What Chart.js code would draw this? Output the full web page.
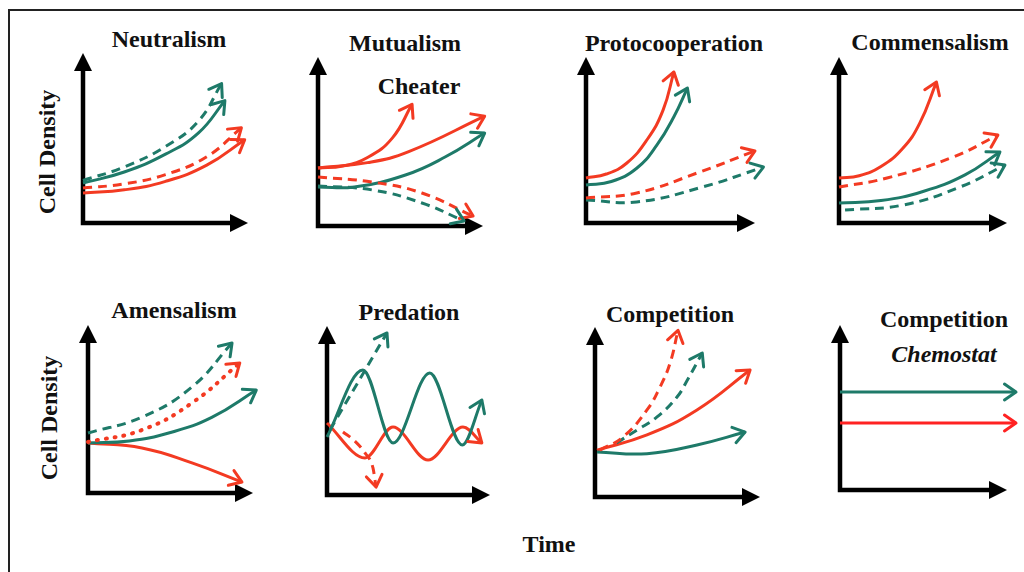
<!DOCTYPE html>
<html>
<head>
<meta charset="utf-8">
<script src="https://cdn.jsdelivr.net/npm/chart.js@4/dist/chart.umd.min.js"></script>
<style>
  html, body { margin: 0; padding: 0; background: #fff; }
  body { width: 1024px; height: 572px; position: relative; overflow: hidden; }
  .frame { position: absolute; left: 8px; top: 9px; width: 1100px; height: 700px;
           border-top: 2px solid #222; border-left: 2px solid #222; }
  .lbl { position: absolute; transform: translate(-50%, -50%); white-space: nowrap;
         font: bold 24px "Liberation Serif", "DejaVu Serif", serif; color: #111; }
  .lbl.it { font-style: italic; }
  .lbl.rot { transform: translate(-50%, -50%) rotate(-90deg); }
  .panel { position: absolute; }
</style>
</head>
<body>
<div class="frame"></div>

<div class="lbl" style="left:169px;top:39px">Neutralism</div>
<div class="lbl" style="left:405px;top:43px">Mutualism</div>
<div class="lbl" style="left:419px;top:86px">Cheater</div>
<div class="lbl" style="left:674px;top:43px">Protocooperation</div>
<div class="lbl" style="left:930px;top:42px">Commensalism</div>
<div class="lbl" style="left:174px;top:310px">Amensalism</div>
<div class="lbl" style="left:409px;top:312px">Predation</div>
<div class="lbl" style="left:670px;top:314px">Competition</div>
<div class="lbl" style="left:944px;top:319px">Competition</div>
<div class="lbl it" style="left:944px;top:354px">Chemostat</div>
<div class="lbl rot" style="left:47px;top:152px">Cell Density</div>
<div class="lbl rot" style="left:49px;top:418px">Cell Density</div>
<div class="lbl" style="left:549px;top:544px">Time</div>

<script>
// =========================
// DATA  ([time, density] in % of each axis)
// =========================
const neutralGreenDash  = [[0, 25], [25, 33], [50, 45], [70, 60], [84, 82]];
const neutralGreenSolid = [[0, 23.5], [25, 30], [50, 40.5], [70, 53], [86, 72]];
const neutralRedDash    = [[0, 20.6], [25, 23], [50, 28.5], [75, 39], [96, 56]];
const neutralRedSolid   = [[0, 17.6], [25, 19.5], [50, 24.5], [75, 34], [98, 49]];

const mutualRedSolid    = [[0, 34.3], [30, 37.5], [55, 44], [101, 65]];
const mutualCheater     = [[0, 34.3], [15, 35.5], [30, 40.5], [45, 52], [57, 72]];
const mutualGreenSolid  = [[0, 23.1], [22, 23.1], [53, 30.2], [77, 40.8], [101, 55]];
const mutualRedDash     = [[0, 29], [33, 26], [63, 19.5], [94, 5.9]];
const mutualGreenDash   = [[0, 23.7], [33, 21.3], [63, 13.6], [88.5, 3]];

const protoRedSolid     = [[0, 27.1], [12, 29.5], [24, 36], [36, 50], [45.6, 68], [52, 91]];
const protoGreenSolid   = [[0, 22.9], [15, 25], [30, 33], [42, 47], [52, 64], [60, 81.3]];
const protoRedDash      = [[0, 15.1], [30, 18.1], [65.7, 30.1], [100, 43.4]];
const protoGreenDash    = [[0, 13.9], [30, 12.7], [69, 21.7], [105, 33.7]];

const commRedSolid      = [[0, 27.1], [12, 28.5], [25, 34], [38, 45], [48, 60], [58, 84.9]];
const commRedDash       = [[0, 21.7], [28.6, 27.1], [68, 39.8], [94.6, 53]];
const commGreenSolid    = [[0, 12], [25, 13.5], [50, 19], [75, 29], [95.8, 42.8]];
const commGreenDash     = [[3.6, 7.8], [38, 10.8], [72, 21.7], [98.8, 34.9]];

const amenGreenDash     = [[0, 35.7], [32.7, 45.2], [63, 63.1], [87.3, 89.3]];
const amenRedDot        = [[0, 30.4], [32.7, 37.5], [63, 53.6], [92, 77.4]];
const amenGreenSolid    = [[0, 29.8], [25, 31], [50, 36], [75, 45], [102, 61.3]];
const amenRedSolid      = [[0, 29.8], [32.7, 26.8], [63, 17.9], [93.3, 6.5]];

const predGreenSolid    = [[0, 34.3], [22, 74], [40.5, 30.8], [63, 72.2], [83, 29.6], [95, 56.2]];
const predRedSolid      = [[0, 42.6], [23.3, 21.9], [40.5, 40.2], [62, 20.7], [83.4, 40.2], [95, 30.8]];
const predGreenDash     = [[1.8, 38.5], [36.8, 95.9]];
const predRedDash       = [[9.8, 37.3], [17, 32], [23.3, 24.9], [28.2, 16], [30.1, 4.7]];

const compRedDash       = [[3, 27.6], [17, 35.3], [31.5, 51.2], [39.4, 64.7], [45.5, 78.8], [50.3, 98]];
const compGreenDash     = [[13, 31.8], [25.5, 39.4], [37.6, 47.1], [49.7, 58.8], [56, 68.8], [65, 84.7]];
const compRedSolid      = [[1.2, 27.6], [31.5, 36.5], [61.8, 51.2], [94, 74.7]];
const compGreenSolid    = [[1.2, 26.5], [31.5, 25.5], [61.8, 30.6], [91, 38.2]];

const chemoGreen        = [[0, 59.4], [105.4, 59.4]];
const chemoRed          = [[0, 40.6], [105.4, 40.6]];

// =========================
// STYLES
// =========================
const RED = "#f33a22";
const GREEN = "#1e7a69";
const PURE_RED = "#ff2222";
const DASH = [9, 6];
const DOT = [1, 8];

// =========================
// PANELS  (axis origin x/y, x-axis tip, y-axis tip, in page pixels)
// =========================
const panels = [
  { box: [83, 223, 248, 53], series: [
    [neutralGreenDash, GREEN, DASH], [neutralGreenSolid, GREEN], [neutralRedDash, RED, DASH], [neutralRedSolid, RED]] },
  { box: [318, 226, 483, 57], series: [
    [mutualRedDash, RED, DASH], [mutualGreenDash, GREEN, DASH], [mutualRedSolid, RED], [mutualCheater, RED], [mutualGreenSolid, GREEN]] },
  { box: [586, 223, 755, 57], series: [
    [protoRedDash, RED, DASH], [protoGreenDash, GREEN, DASH], [protoRedSolid, RED], [protoGreenSolid, GREEN]] },
  { box: [839, 223, 1007, 57], series: [
    [commRedDash, RED, DASH], [commGreenDash, GREEN, DASH], [commRedSolid, RED], [commGreenSolid, GREEN]] },
  { box: [88, 493, 253, 325], series: [
    [amenGreenDash, GREEN, DASH], [amenRedDot, RED, DOT], [amenGreenSolid, GREEN], [amenRedSolid, RED]] },
  { box: [327, 495, 490, 326], wave: true, series: [
    [predGreenDash, GREEN, DASH], [predRedDash, RED, DASH], [predGreenSolid, GREEN], [predRedSolid, RED]] },
  { box: [595, 497, 760, 327], series: [
    [compRedDash, RED, DASH], [compGreenDash, GREEN, DASH], [compGreenSolid, GREEN], [compRedSolid, RED]] },
  { box: [840, 490, 1007, 325], series: [
    [chemoGreen, GREEN], [chemoRed, PURE_RED]] }
];

// =========================
// ARROWS
// =========================
function curveHead(ctx, fx, fy, tx, ty, color) {
  const a = Math.atan2(ty - fy, tx - fx);
  const len = 14, spread = 0.6;
  ctx.save();
  ctx.setLineDash([]);
  ctx.strokeStyle = color;
  ctx.lineWidth = 3;
  ctx.lineCap = "round";
  ctx.lineJoin = "round";
  ctx.beginPath();
  ctx.moveTo(tx - len * Math.cos(a - spread), ty - len * Math.sin(a - spread));
  ctx.lineTo(tx, ty);
  ctx.lineTo(tx - len * Math.cos(a + spread), ty - len * Math.sin(a + spread));
  ctx.stroke();
  ctx.restore();
}

const axisArrows = {
  id: "axisArrows",
  beforeDatasetsDraw(chart) {
    const ctx = chart.ctx;
    const xs = chart.scales.x, ys = chart.scales.y;
    const x0 = xs.getPixelForValue(0), y0 = ys.getPixelForValue(0);
    const x1 = xs.getPixelForValue(100), y1 = ys.getPixelForValue(100);
    const L = 18, H = 9;
    ctx.save();
    ctx.strokeStyle = "#000";
    ctx.fillStyle = "#000";
    ctx.lineWidth = 4.5;
    ctx.lineJoin = "miter";
    ctx.beginPath();
    ctx.moveTo(x0, y1 + L - 2);
    ctx.lineTo(x0, y0);
    ctx.lineTo(x1 - L + 2, y0);
    ctx.stroke();
    ctx.beginPath();
    ctx.moveTo(x0, y1);
    ctx.lineTo(x0 - H, y1 + L);
    ctx.lineTo(x0 + H, y1 + L);
    ctx.closePath();
    ctx.fill();
    ctx.beginPath();
    ctx.moveTo(x1, y0);
    ctx.lineTo(x1 - L, y0 - H);
    ctx.lineTo(x1 - L, y0 + H);
    ctx.closePath();
    ctx.fill();
    ctx.restore();
  },
  afterDatasetsDraw(chart) {
    const ctx = chart.ctx;
    chart.data.datasets.forEach((ds, i) => {
      const pts = chart.getDatasetMeta(i).data;
      const last = pts[pts.length - 1];
      let fx = last.cp1x, fy = last.cp1y;
      if (fx === undefined || Math.hypot(last.x - fx, last.y - fy) < 1) {
        fx = pts[pts.length - 2].x;
        fy = pts[pts.length - 2].y;
      }
      curveHead(ctx, fx, fy, last.x, last.y, ds.borderColor);
    });
  }
};

// =========================
// DRAW
// =========================
const PAD = 26;

panels.forEach(p => {
  const [ox, oy, xt, yt] = p.box;
  const w = xt - ox + 2 * PAD, h = oy - yt + 2 * PAD;

  const wrap = document.createElement("div");
  wrap.className = "panel";
  wrap.style.left = (ox - PAD) + "px";
  wrap.style.top = (yt - PAD) + "px";
  wrap.style.width = w + "px";
  wrap.style.height = h + "px";
  const canvas = document.createElement("canvas");
  canvas.width = w;
  canvas.height = h;
  wrap.appendChild(canvas);
  document.body.appendChild(wrap);

  new Chart(canvas.getContext("2d"), {
    type: "line",
    data: {
      datasets: p.series.map(([pts, color, dash]) => ({
        data: pts.map(([x, y]) => ({ x, y })),
        borderColor: color,
        borderWidth: dash === DOT ? 4 : 3,
        borderDash: dash || [],
        borderCapStyle: dash === DOT ? "round" : "butt",
        cubicInterpolationMode: p.wave ? "monotone" : "default",
        tension: 0.45,
        capBezierPoints: false,
        pointRadius: 0,
        fill: false,
        clip: false
      }))
    },
    options: {
      responsive: false,
      animation: false,
      events: [],
      layout: { padding: PAD },
      plugins: { legend: { display: false }, tooltip: { enabled: false } },
      scales: {
        x: { type: "linear", min: 0, max: 100, display: false },
        y: { type: "linear", min: 0, max: 100, display: false }
      }
    },
    plugins: [axisArrows]
  });
});
</script>
</body>
</html>
